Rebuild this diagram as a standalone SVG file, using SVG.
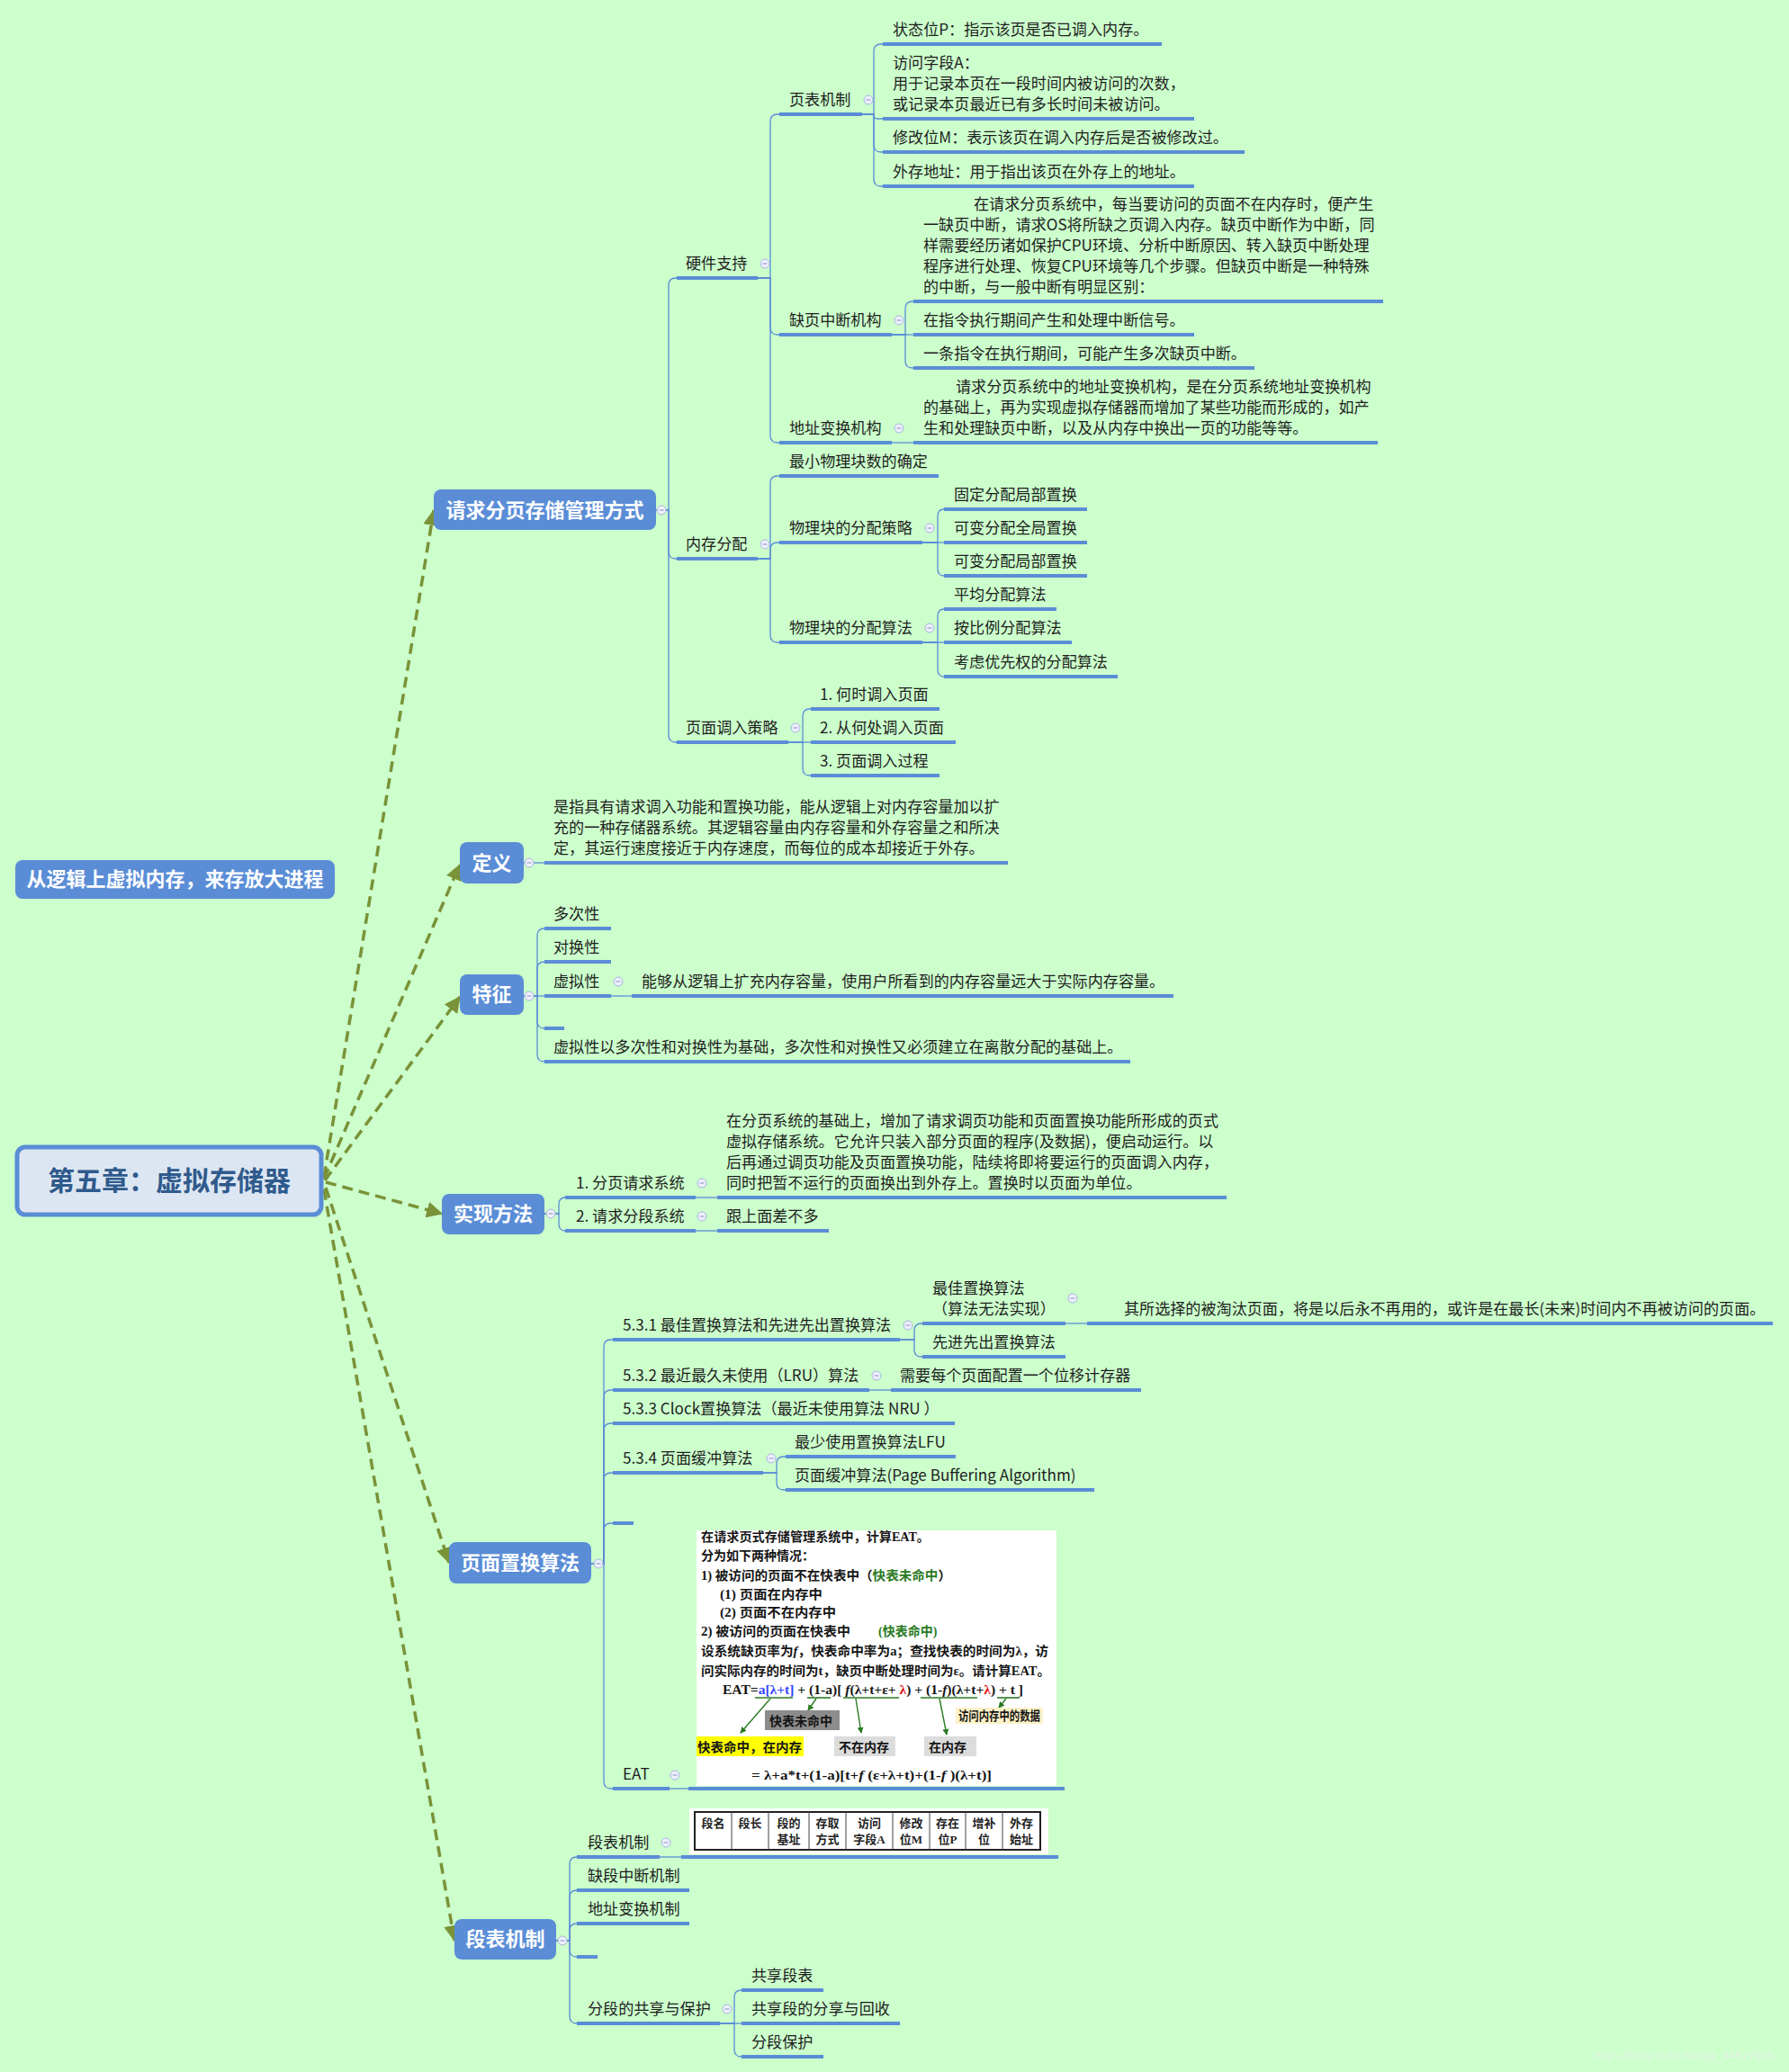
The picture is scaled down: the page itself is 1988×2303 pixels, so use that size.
<svg xmlns="http://www.w3.org/2000/svg" width="1988" height="2303" viewBox="0 0 1988 2303">
<defs>
<style>
.t{font-family:"Noto Sans CJK SC","Liberation Sans",sans-serif;font-size:17.1px;fill:#1e1e1e}
.bt{font-family:"Noto Sans CJK SC","Liberation Sans",sans-serif;font-size:22px;font-weight:bold;fill:#ffffff;text-anchor:middle}
.bn{fill:#5a8dd6}
.ul{stroke:#5a8dd6;stroke-width:4;fill:none}
.cn{stroke:#5a8dd6;stroke-width:1.3;fill:none}
.dl{stroke:#7a9238;stroke-width:3.5;stroke-dasharray:12 7;fill:none;marker-end:url(#arr)}
.im{font-family:"Liberation Serif","Noto Sans CJK SC",serif;font-size:14px;font-weight:bold;fill:#151515}
.tb{font-family:"Liberation Serif","Noto Sans CJK SC",serif;font-size:13px;font-weight:bold;fill:#222;text-anchor:middle}
.ga{stroke:#2a7a22;stroke-width:1.6;fill:none}
.gl{stroke:#2a7a22;stroke-width:1.4;fill:none;marker-end:url(#garr)}
</style>
<marker id="arr" markerUnits="userSpaceOnUse" markerWidth="18" markerHeight="18" viewBox="0 0 16 16" refX="15" refY="8" orient="auto">
<path d="M0,0 L16,8 L0,16 z" fill="#7a9238"/>
</marker>
<marker id="garr" markerUnits="userSpaceOnUse" markerWidth="7" markerHeight="7" viewBox="0 0 8 8" refX="7" refY="4" orient="auto">
<path d="M0,0 L8,4 L0,8 z" fill="#2a7a22"/>
</marker>
<g id="col"><circle r="5" fill="#eef0ff" stroke="#a8b4dc" stroke-width="1"/><line x1="-2.5" y1="0" x2="2.5" y2="0" stroke="#8894c0" stroke-width="1"/></g>
</defs>
<rect x="0" y="0" width="1988" height="2303" fill="#ccffcc"/>

<g id="connectors">
<path class="dl" d="M360,1308 L482,567"/>
<path class="dl" d="M360,1310 L511,961"/>
<path class="dl" d="M361,1312 L511,1108"/>
<path class="dl" d="M362,1314 L491,1349"/>
<path class="dl" d="M362,1320 L499,1737"/>
<path class="dl" d="M360,1322 L505,2157"/>

<path class="cn" d="M729,567 H743 V317 Q743,309 751,309 H752"/>
<path class="cn" d="M729,567 H743 V613 Q743,621 751,621 H752"/>
<path class="cn" d="M729,567 H743 V817 Q743,825 751,825 H752"/>
<path class="cn" d="M842,309 H856 V135 Q856,127 864,127 H866"/>
<path class="cn" d="M842,309 H856 V364 Q856,372 864,372 H866"/>
<path class="cn" d="M842,309 H856 V484 Q856,492 864,492 H866"/>
<path class="cn" d="M958,127 H971 V57 Q971,49 979,49 H981"/>
<path class="cn" d="M958,127 H971 V128 Q971,132 975,132 H981"/>
<path class="cn" d="M958,127 H971 V161 Q971,169 979,169 H981"/>
<path class="cn" d="M958,127 H971 V199 Q971,207 979,207 H981"/>
<path class="cn" d="M991,372 H1006 V343 Q1006,335 1014,335 H1015"/>
<path class="cn" d="M991,372 H1015"/>
<path class="cn" d="M991,372 H1006 V401 Q1006,409 1014,409 H1015"/>
<path class="cn" d="M991,492 H1015"/>
<path class="cn" d="M842,621 H856 V537 Q856,529 864,529 H866"/>
<path class="cn" d="M842,621 H856 V611 Q856,603 864,603 H866"/>
<path class="cn" d="M842,621 H856 V706 Q856,714 864,714 H866"/>
<path class="cn" d="M1025,603 H1042 V574 Q1042,566 1049,566"/>
<path class="cn" d="M1025,603 H1049"/>
<path class="cn" d="M1025,603 H1042 V632 Q1042,640 1049,640"/>
<path class="cn" d="M1025,714 H1042 V685 Q1042,677 1049,677"/>
<path class="cn" d="M1025,714 H1049"/>
<path class="cn" d="M1025,714 H1042 V744 Q1042,752 1049,752"/>
<path class="cn" d="M876,825 H892 V796 Q892,788 900,788 H901"/>
<path class="cn" d="M876,825 H901"/>
<path class="cn" d="M876,825 H892 V854 Q892,862 900,862 H901"/>

<path class="cn" d="M582,959 H605"/>

<path class="cn" d="M582,1107 H597 V1040 Q597,1032 605,1032"/>
<path class="cn" d="M582,1107 H597 V1077 Q597,1069 605,1069"/>
<path class="cn" d="M582,1107 H605"/>
<path class="cn" d="M582,1107 H597 V1135 Q597,1143 605,1143"/>
<path class="cn" d="M582,1107 H597 V1172 Q597,1180 605,1180"/>
<path class="cn" d="M679,1107 H702"/>

<path class="cn" d="M605,1349 H621 V1339 Q621,1331 628,1331"/>
<path class="cn" d="M605,1349 H621 V1360 Q621,1368 628,1368"/>
<path class="cn" d="M773,1331 H797"/>
<path class="cn" d="M773,1368 H797"/>

<path class="cn" d="M657,1738 H671 V1497 Q671,1489 679,1489 H681"/>
<path class="cn" d="M657,1738 H671 V1553 Q671,1545 679,1545 H681"/>
<path class="cn" d="M657,1738 H671 V1590 Q671,1582 679,1582 H681"/>
<path class="cn" d="M657,1738 H671 V1645 Q671,1637 679,1637 H681"/>
<path class="cn" d="M657,1738 H671 V1701 Q671,1693 679,1693 H681"/>
<path class="cn" d="M657,1738 H671 V1980 Q671,1988 679,1988 H681"/>
<path class="cn" d="M1000,1489 H1016 V1479 Q1016,1471 1024,1471 H1025"/>
<path class="cn" d="M1000,1489 H1016 V1500 Q1016,1508 1024,1508 H1025"/>
<path class="cn" d="M1184,1471 H1208"/>
<path class="cn" d="M966,1545 H990"/>
<path class="cn" d="M848,1637 H863 V1627 Q863,1619 871,1619 H873"/>
<path class="cn" d="M848,1637 H863 V1648 Q863,1656 871,1656 H873"/>
<path class="cn" d="M744,1988 H765"/>

<path class="cn" d="M618,2157 H633 V2072 Q633,2064 641,2064"/>
<path class="cn" d="M618,2157 H633 V2109 Q633,2101 641,2101"/>
<path class="cn" d="M618,2157 H633 V2146 Q633,2138 641,2138"/>
<path class="cn" d="M618,2157 H633 V2167 Q633,2175 641,2175"/>
<path class="cn" d="M618,2157 H633 V2241 Q633,2249 641,2249"/>
<path class="cn" d="M733,2064 H757"/>
<path class="cn" d="M800,2249 H816 V2220 Q816,2212 824,2212"/>
<path class="cn" d="M800,2249 H824"/>
<path class="cn" d="M800,2249 H816 V2278 Q816,2286 824,2286"/>
</g>

<g id="root">
<rect x="19" y="1275" width="338" height="75" rx="9" fill="#dce6f2" stroke="#5a8dd6" stroke-width="5"/>
<text x="188" y="1323" font-family="Noto Sans CJK SC, Liberation Sans, sans-serif" font-size="30" font-weight="bold" fill="#2f5a8c" text-anchor="middle">第五章：虚拟存储器</text>
</g>

<g id="float-note">
<rect x="17" y="956" width="355" height="43" rx="8" class="bn"/>
<text class="bt" x="194.5" y="985">从逻辑上虚拟内存，来存放大进程</text>
</g>

<g id="n-qiuqiu">
<rect x="482" y="544" width="247" height="45" rx="8" class="bn"/>
<text class="bt" x="605.5" y="575">请求分页存储管理方式</text>
<use href="#col" x="735" y="567"/>
</g>

<g id="n-yingjian">
<line class="ul" x1="752" y1="309" x2="842" y2="309"/>
<text class="t" x="762" y="299">硬件支持</text>
<use href="#col" x="850" y="293"/>
</g>
<g id="n-yebiao">
<line class="ul" x1="866" y1="127" x2="958" y2="127"/>
<text class="t" x="877" y="117">页表机制</text>
<use href="#col" x="965" y="111"/>
</g>
<g id="n-p">
<line class="ul" x1="981" y1="49" x2="1291" y2="49"/>
<text class="t" x="992" y="39">状态位P：指示该页是否已调入内存。</text>
</g>
<g id="n-a">
<line class="ul" x1="981" y1="132" x2="1327" y2="132"/>
<text class="t" x="992" y="76">访问字段A：</text>
<text class="t" x="992" y="99">用于记录本页在一段时间内被访问的次数，</text>
<text class="t" x="992" y="122">或记录本页最近已有多长时间未被访问。</text>
</g>
<g id="n-m">
<line class="ul" x1="981" y1="169" x2="1383" y2="169"/>
<text class="t" x="992" y="159">修改位M：表示该页在调入内存后是否被修改过。</text>
</g>
<g id="n-waicun">
<line class="ul" x1="981" y1="207" x2="1327" y2="207"/>
<text class="t" x="992" y="197">外存地址：用于指出该页在外存上的地址。</text>
</g>
<g id="n-queye">
<line class="ul" x1="866" y1="372" x2="991" y2="372"/>
<text class="t" x="877" y="362">缺页中断机构</text>
<use href="#col" x="999" y="356"/>
</g>
<g id="n-queye-desc">
<line class="ul" x1="1015" y1="335" x2="1537" y2="335"/>
<text class="t" x="1082" y="233">在请求分页系统中，每当要访问的页面不在内存时，便产生</text>
<text class="t" x="1026" y="256">一缺页中断，请求OS将所缺之页调入内存。缺页中断作为中断，同</text>
<text class="t" x="1026" y="279">样需要经历诸如保护CPU环境、分析中断原因、转入缺页中断处理</text>
<text class="t" x="1026" y="302">程序进行处理、恢复CPU环境等几个步骤。但缺页中断是一种特殊</text>
<text class="t" x="1026" y="325">的中断，与一般中断有明显区别：</text>
</g>
<g id="n-queye-1">
<line class="ul" x1="1015" y1="372" x2="1327" y2="372"/>
<text class="t" x="1026" y="362">在指令执行期间产生和处理中断信号。</text>
</g>
<g id="n-queye-2">
<line class="ul" x1="1015" y1="409" x2="1394" y2="409"/>
<text class="t" x="1026" y="399">一条指令在执行期间，可能产生多次缺页中断。</text>
</g>
<g id="n-dizhi">
<line class="ul" x1="866" y1="492" x2="991" y2="492"/>
<text class="t" x="877" y="482">地址变换机构</text>
<use href="#col" x="999" y="476"/>
</g>
<g id="n-dizhi-desc">
<line class="ul" x1="1015" y1="492" x2="1531" y2="492"/>
<text class="t" x="1062" y="436">请求分页系统中的地址变换机构，是在分页系统地址变换机构</text>
<text class="t" x="1026" y="459">的基础上，再为实现虚拟存储器而增加了某些功能而形成的，如产</text>
<text class="t" x="1026" y="482">生和处理缺页中断，以及从内存中换出一页的功能等等。</text>
</g>

<g id="n-neicun">
<line class="ul" x1="752" y1="621" x2="842" y2="621"/>
<text class="t" x="762" y="611">内存分配</text>
<use href="#col" x="850" y="605"/>
</g>
<g id="n-zuixiao">
<line class="ul" x1="866" y1="529" x2="1043" y2="529"/>
<text class="t" x="877" y="519">最小物理块数的确定</text>
</g>
<g id="n-celue">
<line class="ul" x1="866" y1="603" x2="1025" y2="603"/>
<text class="t" x="877" y="593">物理块的分配策略</text>
<use href="#col" x="1033" y="587"/>
</g>
<g id="n-celue-1">
<line class="ul" x1="1049" y1="566" x2="1208" y2="566"/>
<text class="t" x="1060" y="556">固定分配局部置换</text>
</g>
<g id="n-celue-2">
<line class="ul" x1="1049" y1="603" x2="1208" y2="603"/>
<text class="t" x="1060" y="593">可变分配全局置换</text>
</g>
<g id="n-celue-3">
<line class="ul" x1="1049" y1="640" x2="1208" y2="640"/>
<text class="t" x="1060" y="630">可变分配局部置换</text>
</g>
<g id="n-suanfa">
<line class="ul" x1="866" y1="714" x2="1025" y2="714"/>
<text class="t" x="877" y="704">物理块的分配算法</text>
<use href="#col" x="1033" y="698"/>
</g>
<g id="n-suanfa-1">
<line class="ul" x1="1049" y1="677" x2="1174" y2="677"/>
<text class="t" x="1060" y="667">平均分配算法</text>
</g>
<g id="n-suanfa-2">
<line class="ul" x1="1049" y1="714" x2="1191" y2="714"/>
<text class="t" x="1060" y="704">按比例分配算法</text>
</g>
<g id="n-suanfa-3">
<line class="ul" x1="1049" y1="752" x2="1242" y2="752"/>
<text class="t" x="1060" y="742">考虑优先权的分配算法</text>
</g>
<g id="n-diaoru">
<line class="ul" x1="752" y1="825" x2="876" y2="825"/>
<text class="t" x="762" y="815">页面调入策略</text>
<use href="#col" x="884" y="809"/>
</g>
<g id="n-diaoru-1">
<line class="ul" x1="901" y1="788" x2="1044" y2="788"/>
<text class="t" x="911" y="778">1. 何时调入页面</text>
</g>
<g id="n-diaoru-2">
<line class="ul" x1="901" y1="825" x2="1062" y2="825"/>
<text class="t" x="911" y="815">2. 从何处调入页面</text>
</g>
<g id="n-diaoru-3">
<line class="ul" x1="901" y1="862" x2="1044" y2="862"/>
<text class="t" x="911" y="852">3. 页面调入过程</text>
</g>

<g id="n-dingyi">
<rect x="511" y="936" width="71" height="46" rx="8" class="bn"/>
<text class="bt" x="546.5" y="967">定义</text>
<use href="#col" x="588" y="959"/>
</g>
<g id="n-dingyi-desc">
<line class="ul" x1="605" y1="959" x2="1120" y2="959"/>
<text class="t" x="615" y="903">是指具有请求调入功能和置换功能，能从逻辑上对内存容量加以扩</text>
<text class="t" x="615" y="926">充的一种存储器系统。其逻辑容量由内存容量和外存容量之和所决</text>
<text class="t" x="615" y="949">定，其运行速度接近于内存速度，而每位的成本却接近于外存。</text>
</g>

<g id="n-tezheng">
<rect x="511" y="1083" width="71" height="45" rx="8" class="bn"/>
<text class="bt" x="546.5" y="1113">特征</text>
<use href="#col" x="588" y="1107"/>
</g>
<g id="n-duoci">
<line class="ul" x1="605" y1="1032" x2="679" y2="1032"/>
<text class="t" x="615" y="1022">多次性</text>
</g>
<g id="n-duihuan">
<line class="ul" x1="605" y1="1069" x2="679" y2="1069"/>
<text class="t" x="615" y="1059">对换性</text>
</g>
<g id="n-xuni">
<line class="ul" x1="605" y1="1107" x2="679" y2="1107"/>
<text class="t" x="615" y="1097">虚拟性</text>
<use href="#col" x="687" y="1091"/>
</g>
<g id="n-xuni-desc">
<line class="ul" x1="702" y1="1107" x2="1304" y2="1107"/>
<text class="t" x="713" y="1097">能够从逻辑上扩充内存容量，使用户所看到的内存容量远大于实际内存容量。</text>
</g>
<g id="n-tz-empty">
<line class="ul" x1="605" y1="1143" x2="627" y2="1143"/>
</g>
<g id="n-tz-note">
<line class="ul" x1="605" y1="1180" x2="1256" y2="1180"/>
<text class="t" x="615" y="1170">虚拟性以多次性和对换性为基础，多次性和对换性又必须建立在离散分配的基础上。</text>
</g>

<g id="n-shixian">
<rect x="491" y="1327" width="114" height="45" rx="8" class="bn"/>
<text class="bt" x="548" y="1357">实现方法</text>
<use href="#col" x="612" y="1349"/>
</g>
<g id="n-fenye">
<line class="ul" x1="628" y1="1331" x2="773" y2="1331"/>
<text class="t" x="640" y="1321">1. 分页请求系统</text>
<use href="#col" x="780" y="1315"/>
</g>
<g id="n-fenye-desc">
<line class="ul" x1="797" y1="1331" x2="1363" y2="1331"/>
<text class="t" x="807" y="1252">在分页系统的基础上，增加了请求调页功能和页面置换功能所形成的页式</text>
<text class="t" x="807" y="1275">虚拟存储系统。它允许只装入部分页面的程序(及数据)，便启动运行。以</text>
<text class="t" x="807" y="1298">后再通过调页功能及页面置换功能，陆续将即将要运行的页面调入内存，</text>
<text class="t" x="807" y="1321">同时把暂不运行的页面换出到外存上。置换时以页面为单位。</text>
</g>
<g id="n-fenduan">
<line class="ul" x1="628" y1="1368" x2="773" y2="1368"/>
<text class="t" x="640" y="1358">2. 请求分段系统</text>
<use href="#col" x="780" y="1352"/>
</g>
<g id="n-fenduan-desc">
<line class="ul" x1="797" y1="1368" x2="921" y2="1368"/>
<text class="t" x="807" y="1358">跟上面差不多</text>
</g>

<g id="n-zhihuan">
<rect x="499" y="1714" width="158" height="46" rx="8" class="bn"/>
<text class="bt" x="578" y="1745">页面置换算法</text>
<use href="#col" x="665" y="1738"/>
</g>
<g id="n-531">
<line class="ul" x1="681" y1="1489" x2="1000" y2="1489"/>
<text class="t" x="692" y="1479">5.3.1 最佳置换算法和先进先出置换算法</text>
<use href="#col" x="1009" y="1473"/>
</g>
<g id="n-opt">
<line class="ul" x1="1025" y1="1471" x2="1184" y2="1471"/>
<text class="t" x="1036" y="1438">最佳置换算法</text>
<text class="t" x="1036" y="1461">（算法无法实现）</text>
<use href="#col" x="1192" y="1443"/>
</g>
<g id="n-opt-desc">
<line class="ul" x1="1208" y1="1471" x2="1970" y2="1471"/>
<text class="t" x="1249" y="1461">其所选择的被淘汰页面，将是以后永不再用的，或许是在最长(未来)时间内不再被访问的页面。</text>
</g>
<g id="n-fifo">
<line class="ul" x1="1025" y1="1508" x2="1184" y2="1508"/>
<text class="t" x="1036" y="1498">先进先出置换算法</text>
</g>
<g id="n-532">
<line class="ul" x1="681" y1="1545" x2="966" y2="1545"/>
<text class="t" x="692" y="1535">5.3.2 最近最久未使用（LRU）算法</text>
<use href="#col" x="974" y="1529"/>
</g>
<g id="n-lru-desc">
<line class="ul" x1="990" y1="1545" x2="1268" y2="1545"/>
<text class="t" x="1000" y="1535">需要每个页面配置一个位移计存器</text>
</g>
<g id="n-533">
<line class="ul" x1="681" y1="1582" x2="1061" y2="1582"/>
<text class="t" x="692" y="1572">5.3.3 Clock置换算法（最近未使用算法 NRU ）</text>
</g>
<g id="n-534">
<line class="ul" x1="681" y1="1637" x2="848" y2="1637"/>
<text class="t" x="692" y="1627">5.3.4 页面缓冲算法</text>
<use href="#col" x="857" y="1621"/>
</g>
<g id="n-lfu">
<line class="ul" x1="873" y1="1619" x2="1062" y2="1619"/>
<text class="t" x="883" y="1609">最少使用置换算法LFU</text>
</g>
<g id="n-pba">
<line class="ul" x1="873" y1="1656" x2="1216" y2="1656"/>
<text class="t" x="883" y="1646">页面缓冲算法(Page Buffering Algorithm)</text>
</g>
<g id="n-zh-empty">
<line class="ul" x1="681" y1="1693" x2="704" y2="1693"/>
</g>
<g id="n-eat">
<line class="ul" x1="681" y1="1988" x2="744" y2="1988"/>
<text class="t" x="692" y="1978">EAT</text>
<use href="#col" x="750" y="1973"/>
</g>
<g id="n-eat-img">
<line class="ul" x1="765" y1="1988" x2="1183" y2="1988"/>
<rect x="774" y="1701" width="400" height="284" fill="#ffffff"/>
<text class="im" x="779" y="1713" textLength="254" lengthAdjust="spacingAndGlyphs">在请求页式存储管理系统中，计算EAT。</text>
<text class="im" x="779" y="1734">分为如下两种情况：</text>
<text class="im" x="779" y="1756" textLength="278" lengthAdjust="spacingAndGlyphs">1) 被访问的页面不在快表中（<tspan fill="#2a7a22">快表未命中</tspan>）</text>
<text class="im" x="800" y="1777" textLength="114" lengthAdjust="spacingAndGlyphs">(1) 页面在内存中</text>
<text class="im" x="800" y="1797" textLength="129" lengthAdjust="spacingAndGlyphs">(2) 页面不在内存中</text>
<text class="im" x="779" y="1818" textLength="166" lengthAdjust="spacingAndGlyphs">2) 被访问的页面在快表中</text>
<text class="im" x="976" y="1818"><tspan fill="#2a7a22">(快表命中)</tspan></text>
<text class="im" x="779" y="1840" textLength="386" lengthAdjust="spacingAndGlyphs">设系统缺页率为<tspan font-style="italic">f</tspan>，快表命中率为a；查找快表的时间为λ，访</text>
<text class="im" x="779" y="1862" textLength="388" lengthAdjust="spacingAndGlyphs">问实际内存的时间为t，缺页中断处理时间为ε。请计算EAT。</text>
<text class="im" x="803" y="1883" textLength="334" lengthAdjust="spacingAndGlyphs">EAT=<tspan fill="#3344ff">a[λ+t]</tspan> + (1-a)[ <tspan font-style="italic">f</tspan>(λ+t+ε+ <tspan fill="#dd1111">λ</tspan>) + (1-<tspan font-style="italic">f</tspan>)(λ+t+<tspan fill="#dd1111">λ</tspan>)  +  t  ]</text>
<line class="ga" x1="839" y1="1887" x2="881" y2="1887"/>
<line class="ga" x1="897" y1="1887" x2="923" y2="1887"/>
<line class="ga" x1="937" y1="1887" x2="999" y2="1887"/>
<line class="ga" x1="1023" y1="1887" x2="1086" y2="1887"/>
<line class="ga" x1="1108" y1="1887" x2="1133" y2="1887"/>
<line class="gl" x1="856" y1="1888" x2="823" y2="1926"/>
<line class="gl" x1="907" y1="1888" x2="898" y2="1901"/>
<line class="gl" x1="951" y1="1888" x2="957" y2="1926"/>
<line class="gl" x1="1044" y1="1888" x2="1052" y2="1928"/>
<line class="gl" x1="1118" y1="1888" x2="1110" y2="1898"/>
<rect x="850" y="1901" width="83" height="22" fill="#8c8c8c"/>
<text class="im" x="855" y="1918" font-size="13" fill="#222">快表未命中</text>
<rect x="1062" y="1898" width="97" height="18" fill="#fdf2c8"/>
<text class="im" x="1065" y="1912" font-size="11.5" textLength="91" lengthAdjust="spacingAndGlyphs">访问内存中的数据</text>
<rect x="774" y="1930" width="119" height="22" fill="#ffff00"/>
<text class="im" x="775" y="1947" textLength="116" lengthAdjust="spacingAndGlyphs">快表命中，在内存</text>
<rect x="927" y="1930" width="68" height="22" fill="#dcdcdc"/>
<text class="im" x="932" y="1947" fill="#333">不在内存</text>
<rect x="1027" y="1930" width="58" height="22" fill="#dcdcdc"/>
<text class="im" x="1032" y="1947" fill="#333">在内存</text>
<text class="im" x="835" y="1978" font-size="15" textLength="267" lengthAdjust="spacingAndGlyphs">= λ+a*t+(1-a)[t+<tspan font-style="italic">f</tspan> (ε+λ+t)+(1-<tspan font-style="italic">f</tspan> )(λ+t)]</text>
</g>

<g id="n-duanbiao">
<rect x="505" y="2133" width="113" height="45" rx="8" class="bn"/>
<text class="bt" x="561.5" y="2163">段表机制</text>
<use href="#col" x="625" y="2157"/>
</g>
<g id="n-db-1">
<line class="ul" x1="641" y1="2064" x2="733" y2="2064"/>
<text class="t" x="653" y="2054">段表机制</text>
<use href="#col" x="740" y="2048"/>
</g>
<g id="n-db-table">
<line class="ul" x1="757" y1="2064" x2="1176" y2="2064"/>
<rect x="766" y="2010" width="399" height="51" fill="#ffffff"/>
<rect x="772" y="2014" width="384" height="42" fill="none" stroke="#222" stroke-width="2"/>
<g stroke="#444" stroke-width="1">
<line x1="813" y1="2014" x2="813" y2="2056"/><line x1="854" y1="2014" x2="854" y2="2056"/>
<line x1="899" y1="2014" x2="899" y2="2056"/><line x1="940" y1="2014" x2="940" y2="2056"/>
<line x1="992" y1="2014" x2="992" y2="2056"/><line x1="1033" y1="2014" x2="1033" y2="2056"/>
<line x1="1073" y1="2014" x2="1073" y2="2056"/><line x1="1114" y1="2014" x2="1114" y2="2056"/>
</g>
<text class="tb" x="792.5" y="2031">段名</text>
<text class="tb" x="833.5" y="2031">段长</text>
<text class="tb" x="876.5" y="2031">段的</text><text class="tb" x="876.5" y="2049">基址</text>
<text class="tb" x="919.5" y="2031">存取</text><text class="tb" x="919.5" y="2049">方式</text>
<text class="tb" x="966" y="2031">访问</text><text class="tb" x="966" y="2049">字段A</text>
<text class="tb" x="1012.5" y="2031">修改</text><text class="tb" x="1012.5" y="2049">位M</text>
<text class="tb" x="1053" y="2031">存在</text><text class="tb" x="1053" y="2049">位P</text>
<text class="tb" x="1093.5" y="2031">增补</text><text class="tb" x="1093.5" y="2049">位</text>
<text class="tb" x="1135" y="2031">外存</text><text class="tb" x="1135" y="2049">始址</text>
</g>
<g id="n-db-2">
<line class="ul" x1="641" y1="2101" x2="766" y2="2101"/>
<text class="t" x="653" y="2091">缺段中断机制</text>
</g>
<g id="n-db-3">
<line class="ul" x1="641" y1="2138" x2="766" y2="2138"/>
<text class="t" x="653" y="2128">地址变换机制</text>
</g>
<g id="n-db-empty">
<line class="ul" x1="641" y1="2175" x2="664" y2="2175"/>
</g>
<g id="n-db-share">
<line class="ul" x1="641" y1="2249" x2="800" y2="2249"/>
<text class="t" x="653" y="2239">分段的共享与保护</text>
<use href="#col" x="808" y="2233"/>
</g>
<g id="n-share-1">
<line class="ul" x1="824" y1="2212" x2="915" y2="2212"/>
<text class="t" x="835" y="2202">共享段表</text>
</g>
<g id="n-share-2">
<line class="ul" x1="824" y1="2249" x2="1000" y2="2249"/>
<text class="t" x="835" y="2239">共享段的分享与回收</text>
</g>
<g id="n-share-3">
<line class="ul" x1="824" y1="2286" x2="915" y2="2286"/>
<text class="t" x="835" y="2276">分段保护</text>
</g>

<text x="1772" y="2289" font-family="Liberation Sans, sans-serif" font-size="13" fill="#e2f2e2">https://blog.csdn.net/qq_44627608</text>
</svg>
